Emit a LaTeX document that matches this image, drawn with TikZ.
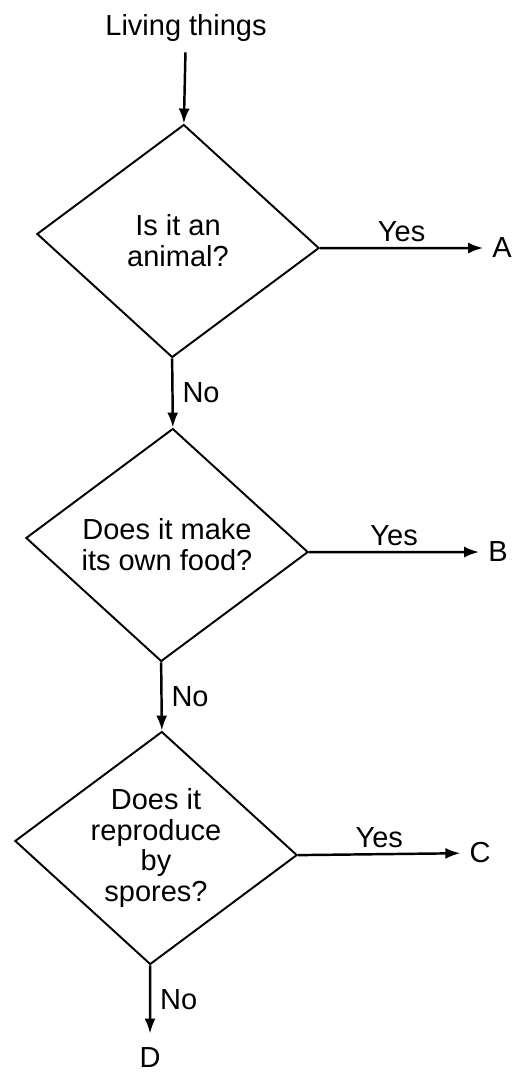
\documentclass[tikz,border=0pt]{standalone}
\usepackage{fontspec}
\setmainfont{Liberation Sans}
\usetikzlibrary{arrows.meta,shapes.geometric,positioning}

\begin{document}
\begin{tikzpicture}[x=0.02cm,y=-0.02cm,
  every node/.style={font=\fontsize{16.5}{17.5}\selectfont},
  decision/.style={draw,diamond,minimum width=5.66cm,minimum height=4.66cm,
    inner sep=0pt,line width=1.1pt,xslant=0.05,yslant=-0.05},
  question/.style={align=center,inner sep=0pt},
  arr/.style={line width=1.4pt,-{Latex[length=3mm,width=2.2mm]}},
  letter/.style={inner sep=5pt},
  yeslabel/.style={above,inner sep=3pt,midway},
  nolabel/.style={right,inner sep=5pt,midway}]
\useasboundingbox (0,0) rectangle (514,1073);
% start
\node[inner sep=6pt] (start) at (186,28) {Living things};
% decisions
\node[decision] (d1) at (178,241) {};
\node[question] (t1) at (d1) {Is it an\\animal?};
\node[decision] (d2) at (167,545) {};
\node[question] (t2) at (d2) {Does it make\\its own food?};
\node[decision] (d3) at (156,848) {};
\node[question] (t3) at (d3) {Does it\\reproduce\\by\\spores?};
% outcomes
\node[letter] (A) at (502,248) {A};
\node[letter] (B) at (498,552) {B};
\node[letter] (C) at (480,853) {C};
\node[inner sep=8pt] (D) at (150,1058) {D};
% connectors
\draw[arr] (start) -- (d1.north);
\draw[arr] (d1.east) -- (A) node[yeslabel] {Yes};
\draw[arr] (d1.south) -- (d2.north) node[nolabel] {No};
\draw[arr] (d2.east) -- (B) node[yeslabel] {Yes};
\draw[arr] (d2.south) -- (d3.north) node[nolabel] {No};
\draw[arr] (d3.east) -- (C) node[yeslabel] {Yes};
\draw[arr] (d3.south) -- (D) node[nolabel] {No};
\end{tikzpicture}
\end{document}
